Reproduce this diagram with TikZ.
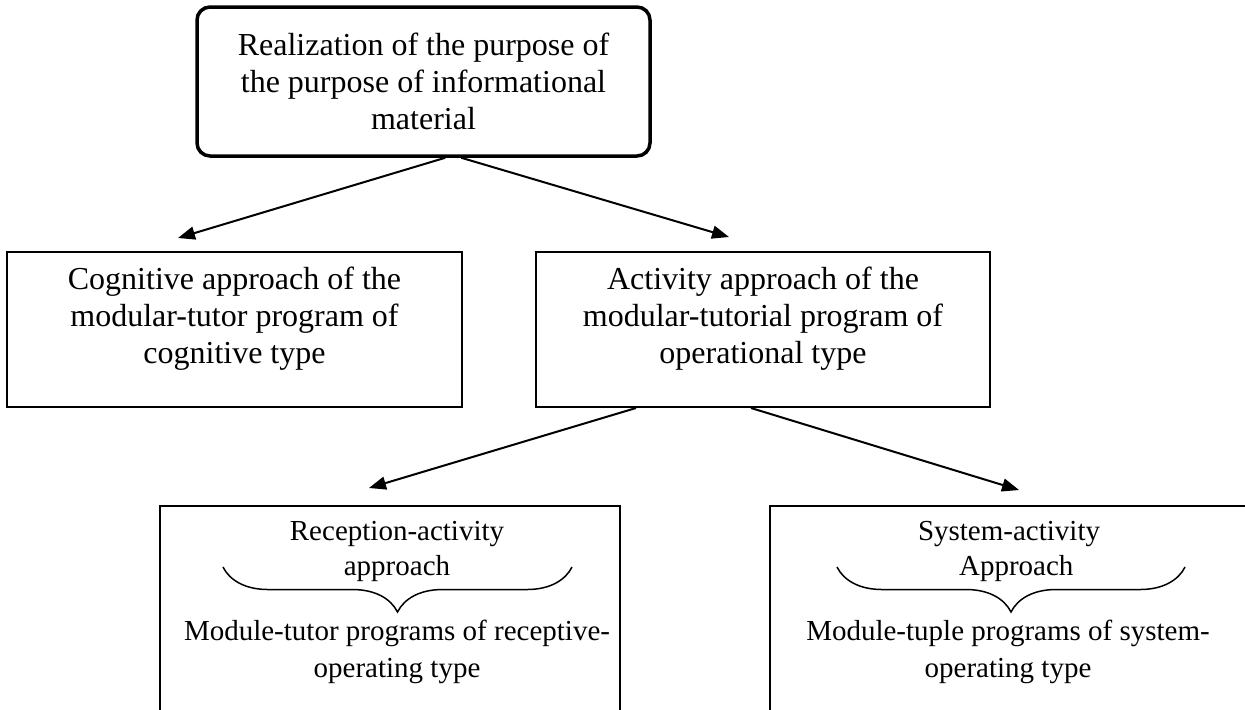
\documentclass[tikz,border=0pt]{standalone}
\usepackage{fontspec}
\setmainfont{Liberation Serif}
\usetikzlibrary{arrows.meta,calc,decorations.pathreplacing}

\begin{document}
\begin{tikzpicture}[x=0.5pt,y=-0.5pt,
  framebox/.style={draw=black, line width=1pt, inner sep=0pt},
  headbox/.style={draw=black, line width=1.75pt, rounded corners=6.5pt,
    minimum width=226.5pt, minimum height=74.5pt, align=center, inner sep=0pt,
    font=\fontsize{16pt}{18.5pt}\selectfont},
  bigtext/.style={align=center, inner sep=0pt, font=\fontsize{16pt}{18.5pt}\selectfont},
  smalltext/.style={align=center, inner sep=0pt, font=\fontsize{14.5pt}{17.5pt}\selectfont},
  link/.style={line width=1pt, -{Triangle[length=8.5pt,width=6.5pt]}},
  bracket/.style={line width=0.75pt, decorate, decoration={brace, mirror, amplitude=22.5pt}}
]
\useasboundingbox (0,0) rectangle (1245,709);
\fill[white] (0,0) rectangle (1245,709);
\clip (0,0) rectangle (1245,709);

% top goal box
\node[headbox] (top) at (423.5,81.5)
  {Realization of the purpose of\\the purpose of informational\\material};

% second level
\node[framebox, minimum width=227.5pt, minimum height=77.5pt] (midL) at (234.5,329.5) {};
\node[bigtext] (midLtext) at ($(midL.center)+(0,-10.5)$)
  {Cognitive approach of the\\modular-tutor program of\\cognitive type};
\node[framebox, minimum width=227pt, minimum height=77.5pt] (midR) at (763,329.5) {};
\node[bigtext] (midRtext) at ($(midR.center)+(0,-10.5)$)
  {Activity approach of the\\modular-tutorial program of\\operational type};

% third level (boxes run past the lower edge)
\node[framebox, minimum width=230pt, minimum height=137pt] (botL) at (390,643) {};
\node[framebox, minimum width=265pt, minimum height=137pt] (botR) at (1035,643) {};

\node[smalltext] (botLhead) at ($(botL.north west)+(238,46)$)
  {Reception-activity\\approach};
\draw[bracket] ($(botL.north west)+(64,62)$) -- ($(botL.north west)+(413,62)$);
\node[smalltext, font=\fontsize{14.5pt}{18.5pt}\selectfont] (botLbody) at ($(botL.north west)+(238,147)$)
  {Module-tutor programs of receptive-\\operating type};

\node[smalltext] (botRhead) at ($(botR.north west)+(240,46)$)
  {System-activity\\\hspace*{0.5em}Approach};
\draw[bracket] ($(botR.north west)+(68,62)$) -- ($(botR.north west)+(416,62)$);
\node[smalltext, font=\fontsize{14.5pt}{18.5pt}\selectfont] (botRbody) at ($(botR.north west)+(239,147)$)
  {Module-tuple programs of system-\\operating type};

% connectors
\draw[link] ($(top.south west)+(250,0)$) -- ($(midL.north west)+(172,-13)$);
\draw[link] ($(top.south west)+(266,0)$) -- ($(midR.north west)+(194,-14)$);
\draw[link] ($(midR.south west)+(101,0)$) -- ($(botL.north west)+(210,-17)$);
\draw[link] ($(midR.south west)+(216,0)$) -- ($(botR.north west)+(250,-15)$);
\end{tikzpicture}
\end{document}
